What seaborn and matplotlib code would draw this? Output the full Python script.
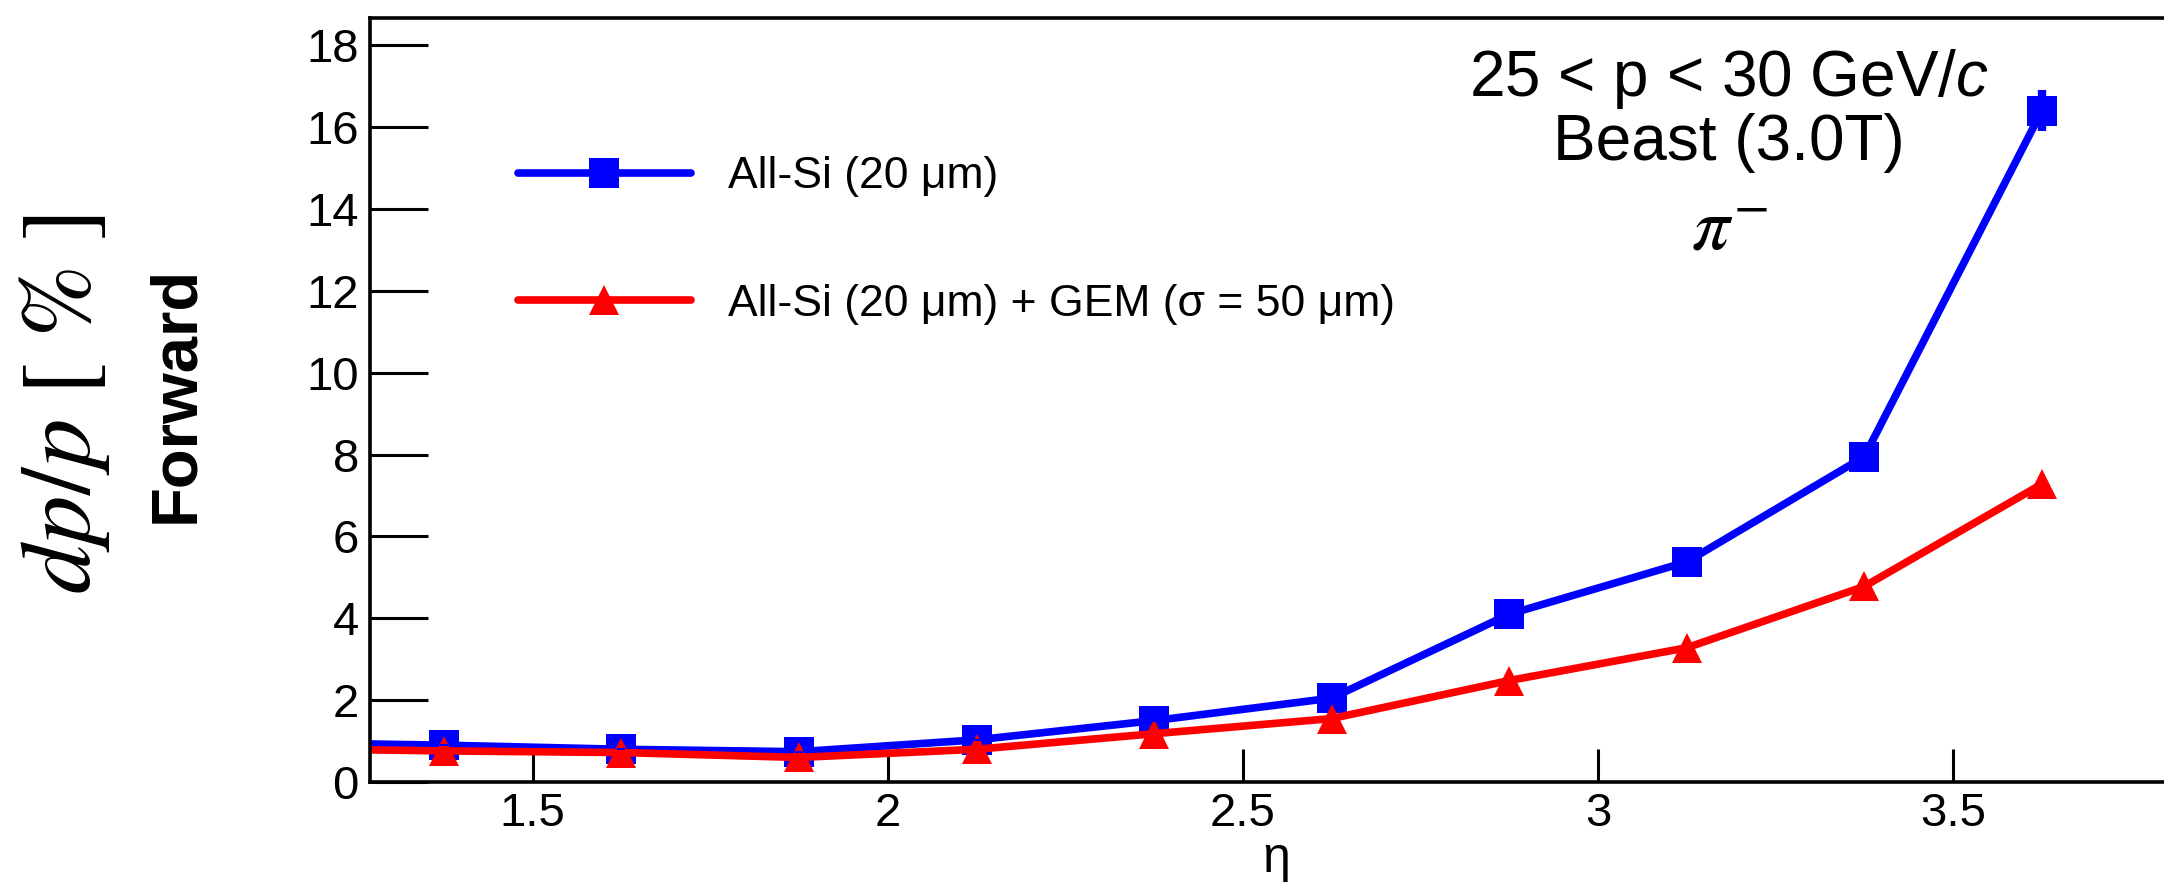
import matplotlib
matplotlib.use("Agg")
import matplotlib.pyplot as plt
from matplotlib.lines import Line2D
import seaborn as sns
import pandas as pd

# ---- data ----
eta = [1.125, 1.375, 1.625, 1.875, 2.125, 2.375, 2.625, 2.875, 3.125, 3.375, 3.625]
allsi = [0.97, 0.90, 0.80, 0.74, 1.03, 1.50, 2.05, 4.10, 5.38, 7.95, 16.40]
allsi_err = [0.02, 0.02, 0.02, 0.02, 0.03, 0.04, 0.05, 0.08, 0.10, 0.15, 0.50]
allsi_gem = [0.82, 0.76, 0.72, 0.60, 0.80, 1.18, 1.55, 2.48, 3.28, 4.78, 7.28]
labels = ["All-Si (20 μm)", "All-Si (20 μm) + GEM (σ = 50 μm)"]
xticks = [1.5, 2.0, 2.5, 3.0, 3.5]
xticklabels = ["1.5", "2", "2.5", "3", "3.5"]
yticks = [0, 2, 4, 6, 8, 10, 12, 14, 16, 18]

sns.set_theme(style="white")
plt.rcParams['font.family'] = ['Liberation Sans', 'DejaVu Sans']
plt.rcParams['mathtext.fontset'] = 'stix'
plt.rcParams['mathtext.it'] = 'Liberation Sans:italic'
plt.rcParams['mathtext.rm'] = 'Liberation Sans'
plt.rcParams['text.color'] = 'black'
plt.rcParams['xtick.color'] = 'black'
plt.rcParams['ytick.color'] = 'black'
plt.rcParams['xtick.labelcolor'] = 'black'
plt.rcParams['ytick.labelcolor'] = 'black'

df = pd.DataFrame({
    "eta": eta * 2,
    "val": allsi + allsi_gem,
    "series": [labels[0]] * len(eta) + [labels[1]] * len(eta),
})

W, H = 2164, 882
fig = plt.figure(figsize=(W / 100, H / 100), dpi=100)
extra = 0.01
ax_w = (W - 370) / W + extra
ax = fig.add_axes([370 / W, 100 / H, ax_w, (782 - 18) / H])

blue, red = "#0000ff", "#ff0000"
palette = {labels[0]: blue, labels[1]: red}
markers = {labels[0]: "s", labels[1]: "^"}
sns.lineplot(data=df, x="eta", y="val", hue="series", style="series",
             palette=palette, markers=markers, dashes=False, markersize=21,
             markeredgewidth=0, linewidth=5.5, ax=ax, legend=False)
ax.errorbar(eta, allsi, yerr=allsi_err, fmt="none", ecolor=blue,
            elinewidth=6, capsize=0)

x0, x1 = 1.271, 3.797
ax.set_xlim(x0, x1 + extra * (x1 - x0) / ((W - 370) / W))
ax.set_ylim(0, 18.67)
ax.set_xticks(xticks)
ax.set_xticklabels(xticklabels)
ax.set_yticks(yticks)
ax.tick_params(axis="y", direction="in", length=42, width=2.2, labelsize=34, pad=8, left=True)
ax.tick_params(axis="x", direction="in", length=24, width=2.2, labelsize=34, pad=7, bottom=True)
for s in ["left", "bottom", "top"]:
    ax.spines[s].set_linewidth(2.6)
    ax.spines[s].set_color("black")
ax.spines["right"].set_visible(False)
ax.set_xlabel("")
ax.set_ylabel("")

handles = [Line2D([], [], color=blue, marker="s", markersize=21, lw=5.5, markeredgewidth=0),
           Line2D([], [], color=red, marker="^", markersize=21, lw=5.5, markeredgewidth=0)]
ax.legend(handles, labels, loc="center left",
          bbox_to_anchor=((517.5 - 370) / (ax_w * W), 0.7085),
          frameon=False, fontsize=32, handlelength=3.9, handletextpad=0.84,
          labelspacing=1.95, borderpad=0, borderaxespad=0)

# annotations
fig.text(1729 / W, 1 - 79 / H, "25 < p < 30 GeV/$c$", ha="center", va="center",
         fontsize=46, math_fontfamily="custom")
fig.text(1729 / W, 1 - 143 / H, "Beast (3.0T)", ha="center", va="center", fontsize=46)
fig.text(1729 / W, 1 - 230 / H, r"$\pi^{-}$", ha="center", va="center", fontsize=54)

fig.text(65 / W, 0.5424, r"$dp/p\ [\ \%\ ]$", rotation=90, ha="center", va="center", fontsize=71)
fig.text(176 / W, 0.553, "Forward", rotation=90, ha="center", va="center", fontsize=47,
         fontweight="bold")
fig.text(1276 / W, 0, "η", ha="center", va="bottom", fontsize=36)

fig.savefig("out.png", dpi=100)
